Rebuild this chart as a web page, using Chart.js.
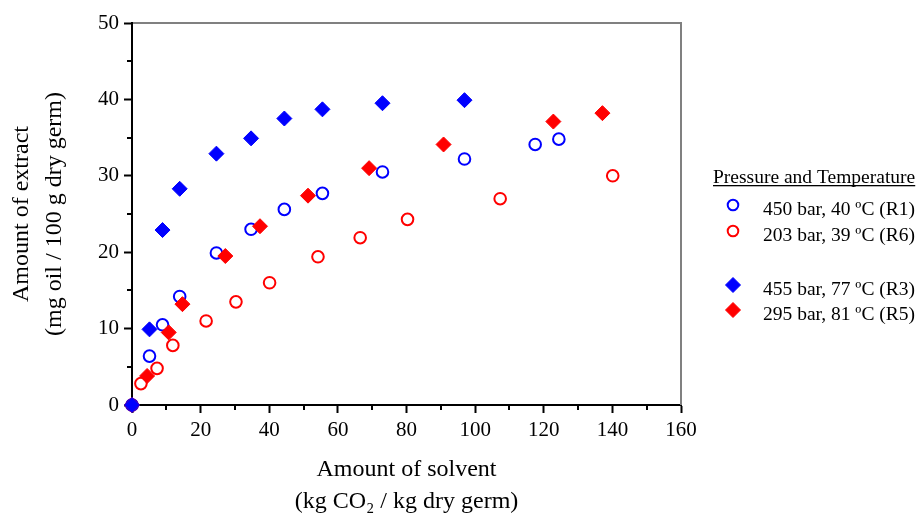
<!DOCTYPE html>
<html>
<head>
<meta charset="utf-8">
<script src="https://cdn.jsdelivr.net/npm/chart.js@4/dist/chart.umd.min.js"></script>
<style>
  html, body { margin: 0; padding: 0; background: #fff; }
  #wrap { width: 916px; height: 514px; }
</style>
</head>
<body>
<div id="wrap"><canvas id="extractChart"></canvas></div>
<script>
// Datos (x: kg CO2 / kg germen, y: mg aceite / 100 g)
const r1Solvent = [0, 5.1, 8.9, 13.9, 24.6, 34.7, 44.4, 55.5, 73.0, 96.9, 117.5, 124.4];
const r1Extract = [0, 6.4, 10.5, 14.2, 19.9, 23.0, 25.6, 27.7, 30.5, 32.2, 34.1, 34.8];
const r6Solvent = [0, 2.6, 7.3, 11.9, 21.6, 30.3, 40.1, 54.2, 66.5, 80.3, 107.3, 140.1];
const r6Extract = [0, 2.8, 4.8, 7.8, 11.0, 13.5, 16.0, 19.4, 21.9, 24.3, 27.0, 30.0];
const r3Solvent = [0, 5.1, 8.9, 13.9, 24.6, 34.7, 44.4, 55.5, 73.0, 96.9];
const r3Extract = [0, 9.9, 22.9, 28.3, 32.9, 34.9, 37.5, 38.7, 39.5, 39.9];
const r5Solvent = [0, 4.4, 10.7, 14.7, 27.2, 37.3, 51.3, 69.1, 90.8, 122.8, 137.1];
const r5Extract = [0, 3.8, 9.5, 13.2, 19.5, 23.4, 27.4, 31.0, 34.1, 37.1, 38.2];

const seriesLabels = ['450 bar, 40 ºC (R1)', '203 bar, 39 ºC (R6)', '455 bar, 77 ºC (R3)', '295 bar, 81 ºC (R5)'];
const legendTitle = 'Pressure and Temperature';
const xTitle = ['Amount of solvent', '(kg CO\u2082 / kg dry germ)'];
const yTitle = ['Amount of extract', '(mg oil / 100 g dry germ)'];
const xMinorTicks = [10, 30, 50, 70, 90, 110, 130, 150];
const yMinorTicks = [5, 15, 25, 35, 45];

const FONT = '"Liberation Serif", "Times New Roman", serif';
const BLUE = '#0000ff';
const RED = '#ff0000';

function toPoints(xs, ys) {
    return xs.map((x, i) => ({ x: x, y: ys[i] }));
}

function circleSet(label, xs, ys, color, order) {
    return {
        label: label, data: toPoints(xs, ys), order: order, clip: false,
        showLine: false, pointStyle: 'circle', pointRadius: 5.8,
        pointBorderWidth: 2, pointBorderColor: color,
        pointBackgroundColor: 'rgba(0,0,0,0)'
    };
}

function diamondSet(label, xs, ys, color, order) {
    return {
        label: label, data: toPoints(xs, ys), order: order, clip: false,
        showLine: false, pointStyle: 'rectRot', pointRadius: 7.5,
        pointBorderWidth: 1, pointBorderColor: color,
        pointBackgroundColor: color
    };
}

// marco gris arriba/derecha y ticks menores
const framePlugin = {
    id: 'frame',
    beforeDatasetsDraw(chart) {
        const ctx = chart.ctx;
        const a = chart.chartArea;
        const xs = chart.scales.x, ys = chart.scales.y;
        ctx.save();
        ctx.strokeStyle = '#808080';
        ctx.lineWidth = 2;
        ctx.beginPath();
        ctx.moveTo(a.left + 1, a.top);
        ctx.lineTo(a.right, a.top);
        ctx.lineTo(a.right, a.bottom);
        ctx.stroke();

        ctx.strokeStyle = '#000';
        ctx.beginPath();
        xMinorTicks.forEach(v => {
            const px = Math.round(xs.getPixelForValue(v));
            ctx.moveTo(px, a.bottom);
            ctx.lineTo(px, a.bottom + 5);
        });
        yMinorTicks.forEach(v => {
            const py = Math.round(ys.getPixelForValue(v));
            ctx.moveTo(a.left, py);
            ctx.lineTo(a.left - 5, py);
        });
        ctx.stroke();
        ctx.restore();
    }
};

function drawMarker(ctx, ds, x, y) {
    ctx.save();
    ctx.strokeStyle = ds.pointBorderColor;
    ctx.fillStyle = ds.pointBackgroundColor;
    ctx.lineWidth = ds.pointBorderWidth;
    ctx.beginPath();
    if (ds.pointStyle === 'circle') {
        ctx.arc(x, y, 5.3, 0, Math.PI * 2);
    } else {
        const r = 7.5;
        ctx.moveTo(x - r, y);
        ctx.lineTo(x, y - r);
        ctx.lineTo(x + r, y);
        ctx.lineTo(x, y + r);
        ctx.closePath();
        ctx.fill();
    }
    ctx.stroke();
    ctx.restore();
}

// leyenda a la derecha con título subrayado
const sideLegend = {
    id: 'sideLegend',
    afterDraw(chart) {
        const ctx = chart.ctx;
        const left = chart.chartArea.right + 32;
        ctx.save();
        ctx.font = '19.5px ' + FONT;
        ctx.fillStyle = '#000';
        ctx.textAlign = 'left';
        ctx.textBaseline = 'alphabetic';
        ctx.fillText(legendTitle, left, 183);
        const w = ctx.measureText(legendTitle).width;
        ctx.fillRect(left, 185, w, 1.3);

        const rowY = [208, 234, 288, 313];
        chart.data.datasets.forEach((ds, i) => {
            drawMarker(ctx, ds, left + 20, rowY[i] - 3);
            ctx.fillStyle = '#000';
            ctx.fillText(ds.label, left + 50, rowY[i] + 7);
        });
        ctx.restore();
    }
};

const ctx = document.getElementById('extractChart').getContext('2d');
const chart = new Chart(ctx, {
    type: 'scatter',
    data: {
        datasets: [
            circleSet(seriesLabels[0], r1Solvent, r1Extract, BLUE, 2),
            circleSet(seriesLabels[1], r6Solvent, r6Extract, RED, 3),
            diamondSet(seriesLabels[2], r3Solvent, r3Extract, BLUE, 0),
            diamondSet(seriesLabels[3], r5Solvent, r5Extract, RED, 1)
        ]
    },
    options: {
        responsive: true,
        maintainAspectRatio: false,
        animation: false,
        layout: { padding: { left: 0, right: 235, top: 23, bottom: 0 } },
        plugins: {
            legend: { display: false },
            tooltip: { enabled: false }
        },
        scales: {
            x: {
                type: 'linear', min: 0, max: 160,
                ticks: { stepSize: 20, color: '#000', padding: 5, maxRotation: 0,
                    font: { family: FONT, size: 21 } },
                grid: { drawOnChartArea: false, tickLength: 8, tickWidth: 2, tickColor: '#000' },
                border: { color: '#000', width: 2 },
                title: { display: true, text: xTitle, color: '#000',
                    font: { family: FONT, size: 24, lineHeight: 1.333 },
                    padding: { top: 0, bottom: -4 } },
                afterFit(scale) { scale.height = 109; }
            },
            y: {
                type: 'linear', min: 0, max: 50,
                ticks: { stepSize: 10, color: '#000', padding: 5,
                    font: { family: FONT, size: 21 } },
                grid: { drawOnChartArea: false, tickLength: 8, tickWidth: 2, tickColor: '#000' },
                border: { color: '#000', width: 2 },
                title: { display: true, text: yTitle, color: '#000',
                    font: { family: FONT, size: 24, lineHeight: 1.35 },
                    padding: { top: 6, bottom: 0 } },
                afterFit(scale) { scale.width = 132; }
            }
        }
    },
    plugins: [framePlugin, sideLegend]
});
</script>
</body>
</html>
